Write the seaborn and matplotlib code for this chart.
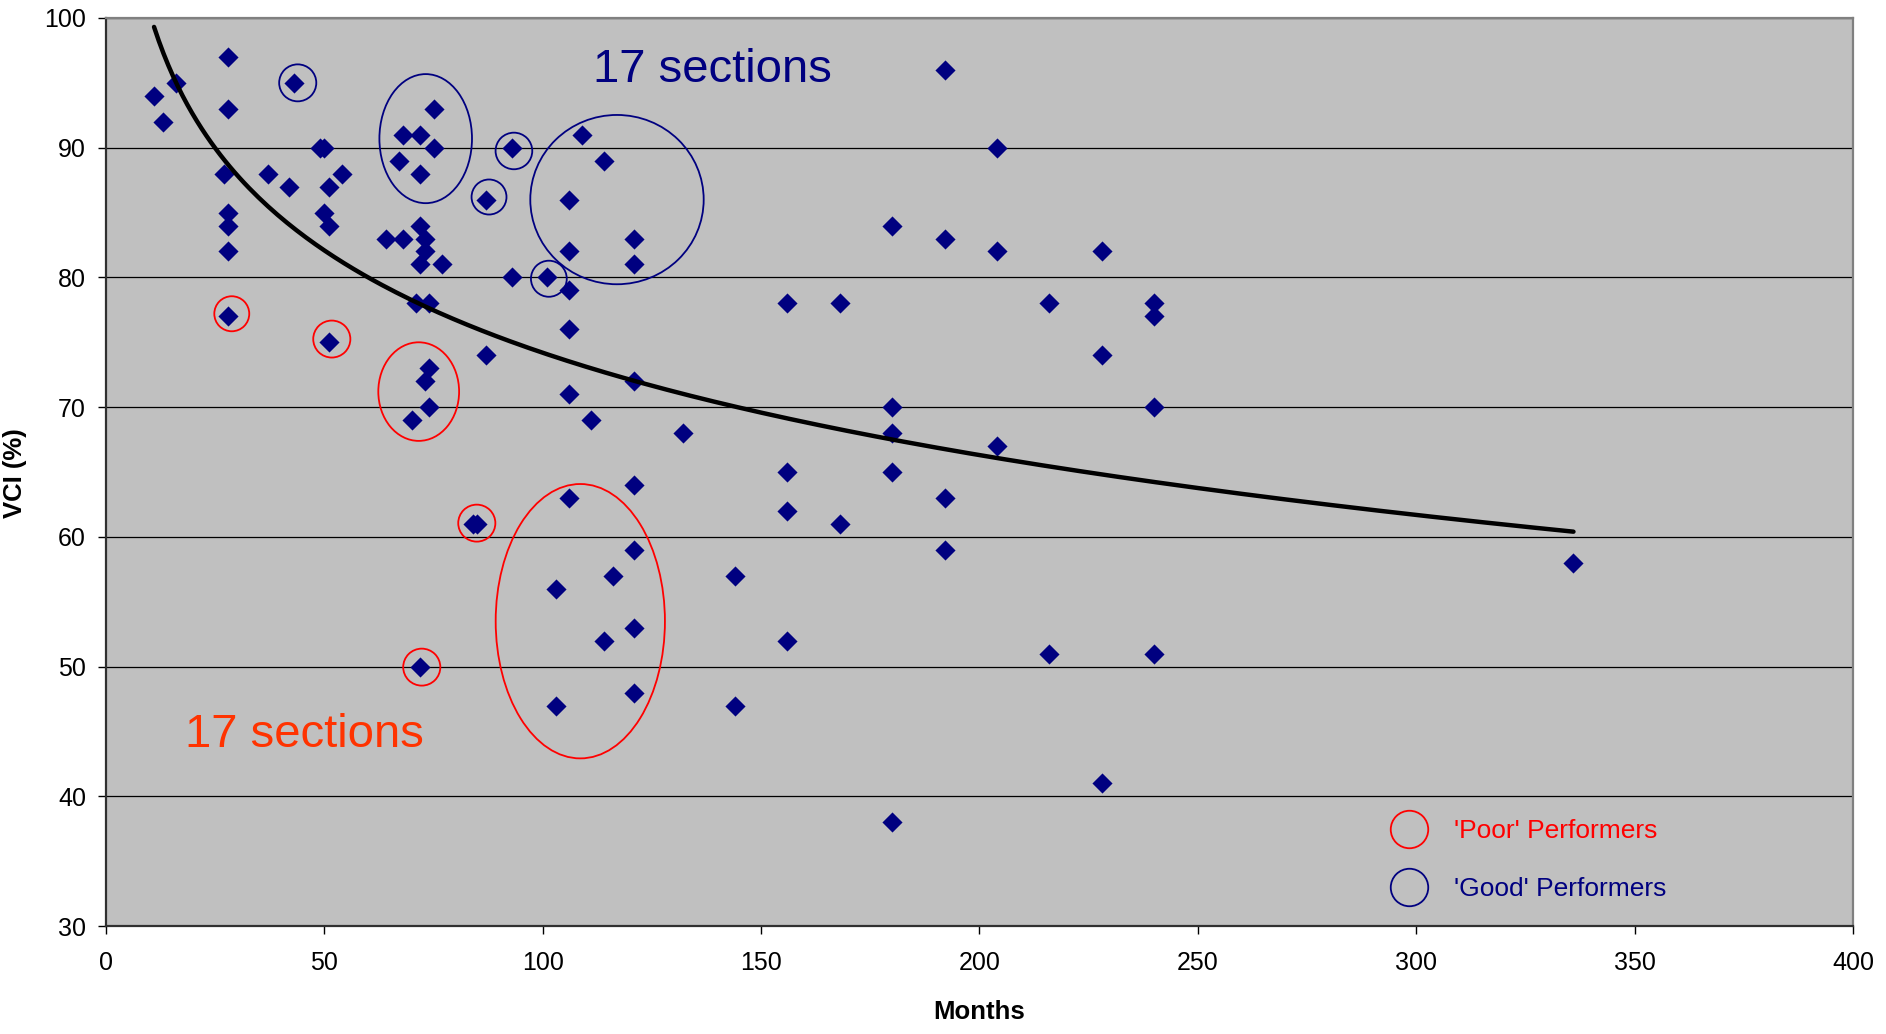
import numpy as np
import pandas as pd
import matplotlib
matplotlib.use("Agg")
import matplotlib.pyplot as plt
from matplotlib.patches import Ellipse
from matplotlib.lines import Line2D
import seaborn as sns

# Section age (months) and visual condition index (%)
months = [11, 13, 16, 28, 28, 27, 28, 28, 28, 28,
          37, 42, 43, 49, 50, 51, 54, 50, 51, 51,
          75, 68, 72, 75, 67, 72, 93, 87, 64, 68,
          72, 73, 73, 72, 77, 71, 74, 87, 93, 101,
          109, 114, 106, 121, 106, 121, 106, 106, 121, 106,
          111, 132, 74, 73, 74, 70, 121, 106, 84, 85,
          121, 116, 103, 121, 114, 121, 103, 72, 144, 144,
          156, 168, 156, 156, 168, 156, 180, 180, 180, 180,
          180, 192, 192, 192, 192, 204, 204, 204, 216, 216,
          228, 228, 228, 240, 240, 240, 240, 336]
vci = [94, 92, 95, 97, 93, 88, 85, 84, 82, 77,
       88, 87, 95, 90, 90, 87, 88, 85, 84, 75,
       93, 91, 91, 90, 89, 88, 90, 86, 83, 83,
       84, 83, 82, 81, 81, 78, 78, 74, 80, 80,
       91, 89, 86, 83, 82, 81, 79, 76, 72, 71,
       69, 68, 73, 72, 70, 69, 64, 63, 61, 61,
       59, 57, 56, 53, 52, 48, 47, 50, 57, 47,
       78, 78, 65, 62, 61, 52, 84, 70, 68, 65,
       38, 96, 83, 63, 59, 90, 82, 67, 78, 51,
       82, 74, 41, 78, 77, 70, 51, 58]

# Logarithmic trend line: VCI = intercept + slope * ln(months)
trend_intercept = 126.6
trend_slope = -11.38

# Highlighted groups: centre month, centre VCI, width (months), height (VCI)
good_ellipses = [
    (43.9, 95.0, 8.5, 2.85),
    (73.2, 90.7, 21.2, 9.95),
    (93.4, 89.75, 8.4, 2.82),
    (87.7, 86.2, 8.0, 2.7),
    (117.0, 86.0, 39.7, 13.05),
    (101.4, 79.9, 8.2, 2.78),
]
poor_ellipses = [
    (28.8, 77.2, 8.0, 2.7),
    (51.7, 75.25, 8.5, 2.85),
    (71.6, 71.2, 18.5, 7.6),
    (84.9, 61.06, 8.5, 2.85),
    (72.3, 49.96, 8.5, 2.85),
    (108.6, 53.5, 38.75, 21.15),
]

x_ticks = [0, 50, 100, 150, 200, 250, 300, 350, 400]
y_ticks = [30, 40, 50, 60, 70, 80, 90, 100]

NAVY = "#000080"
RED = "#FF0000"
ORANGE_RED = "#FF3300"

sns.set_theme(style="white")
plt.rcParams["font.family"] = ["Liberation Sans", "DejaVu Sans"]

df = pd.DataFrame({"Months": months, "VCI": vci})

trend_x = np.linspace(df["Months"].min(), df["Months"].max(), 300)
trend = pd.DataFrame({"Months": trend_x,
                      "VCI": trend_intercept + trend_slope * np.log(trend_x)})

fig = plt.figure(figsize=(18.86, 10.34), dpi=100)
ax = fig.add_axes([0.0562, 0.1044, 0.9263, 0.8782])
ax.set_facecolor("#C0C0C0")

ax.set_xlim(0, 400)
ax.set_ylim(30, 100)
ax.set_xticks(x_ticks)
ax.set_yticks(y_ticks)
ax.yaxis.grid(True, color="black", linewidth=0.9)
ax.xaxis.grid(False)
ax.set_axisbelow(True)

sns.scatterplot(data=df, x="Months", y="VCI", marker="D", s=105,
                color=NAVY, linewidth=0, ax=ax, zorder=3)
sns.lineplot(data=trend, x="Months", y="VCI", color="black",
             linewidth=3.2, ax=ax, zorder=4)

for cx, cy, w, h in good_ellipses:
    ax.add_patch(Ellipse((cx, cy), w, h, fill=False, edgecolor=NAVY,
                         linewidth=1.3, zorder=5))
for cx, cy, w, h in poor_ellipses:
    ax.add_patch(Ellipse((cx, cy), w, h, fill=False, edgecolor=RED,
                         linewidth=1.3, zorder=5))

ax.text(138.9, 95.1, "17 sections", color=NAVY, fontsize=34,
        ha="center", va="baseline", zorder=6)
ax.text(45.4, 43.8, "17 sections", color=ORANGE_RED, fontsize=34,
        ha="center", va="baseline", zorder=6)

handles = [
    Line2D([], [], linestyle="none", marker="o", markersize=27,
           markerfacecolor="none", markeredgecolor=RED, markeredgewidth=1.3),
    Line2D([], [], linestyle="none", marker="o", markersize=27,
           markerfacecolor="none", markeredgecolor=NAVY, markeredgewidth=1.3),
]
ax.legend(handles, ["'Poor' Performers", "'Good' Performers"],
          loc="upper left", bbox_to_anchor=(0.7249, 0.129),
          frameon=False, fontsize=19, handlelength=2.0, handletextpad=0.705,
          labelspacing=1.28, borderpad=0.4, borderaxespad=0,
          labelcolor=[RED, NAVY])

ax.tick_params(axis="both", which="major", direction="out", length=6,
               width=1, color="black", labelsize=18, labelcolor="black",
               left=True, bottom=True)
ax.tick_params(axis="y", pad=8.4)
ax.tick_params(axis="x", pad=12)

ax.set_xlabel("Months", fontsize=18.5, fontweight="bold", color="black")
ax.set_ylabel("VCI (%)", fontsize=18.5, fontweight="bold", color="black")
ax.xaxis.set_label_coords(0.5, -0.0945)
ax.xaxis.label.set_va("center")
ax.yaxis.set_label_coords(-0.0522, 0.499)
ax.yaxis.label.set_va("center")

for side in ("left", "bottom"):
    ax.spines[side].set_color("#303030")
    ax.spines[side].set_linewidth(1.6)
for side in ("top", "right"):
    ax.spines[side].set_color("#808080")
    ax.spines[side].set_linewidth(1.6)

fig.savefig("out.png", dpi=100, facecolor="white")
